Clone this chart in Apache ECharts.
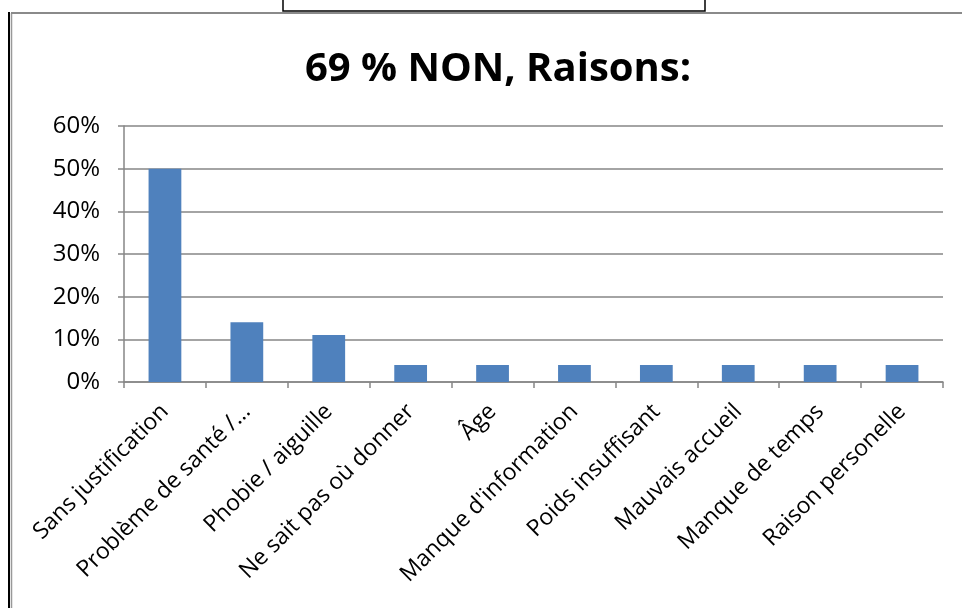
<!DOCTYPE html>
<html>
<head>
<meta charset="utf-8">
<script src="https://cdn.jsdelivr.net/npm/echarts@6/dist/echarts.min.js"></script>
<style>
html,body{margin:0;padding:0;background:#fff;}
#chart{width:962px;height:608px;}
</style>
</head>
<body>
<div id="chart"></div>
<script>
const titleText = '69 % NON, Raisons:';
const categories = ['Sans justification','Problème de santé /…','Phobie / aiguille','Ne sait pas où donner','Âge',"Manque d'information",'Poids insuffisant','Mauvais accueil','Manque de temps','Raison personelle'];
const values = [0.50, 0.14, 0.11, 0.04, 0.04, 0.04, 0.04, 0.04, 0.04, 0.04];
const yTicks = [0, 0.1, 0.2, 0.3, 0.4, 0.5, 0.6];

const chart = echarts.init(document.getElementById('chart'));
chart.setOption({
  animation: false,
  backgroundColor: '#ffffff',
  title: {
    text: titleText,
    left: 493, top: 45, textAlign: 'center',
    textStyle: {fontFamily: 'Open Sans', fontWeight: 'bold', fontSize: 40, color: '#000'}
  },
  graphic: [
    {type:'line', shape:{x1:9,y1:12,x2:9,y2:608}, style:{stroke:'#000',lineWidth:2}},
    {type:'line', shape:{x1:11.5,y1:13,x2:11.5,y2:608}, style:{stroke:'#999',lineWidth:1.5}},
    {type:'line', shape:{x1:11,y1:13,x2:962,y2:13}, style:{stroke:'#8a8a8a',lineWidth:2}},
    {type:'rect', shape:{x:283,y:-2,width:422,height:13}, style:{fill:'#fff',stroke:'#000',lineWidth:1.5}}
  ],
  grid: {left:124, right:19, top:126, bottom:226, containLabel:false},
  xAxis: {
    type:'category', data: categories,
    axisLine:{show:true, lineStyle:{color:'#868686', width:1.5}},
    axisTick:{show:true, alignWithLabel:false, length:6, lineStyle:{color:'#868686', width:1.5}},
    axisLabel:{rotate:45, interval:0, margin:26, color:'#000', fontFamily:'Open Sans', fontSize:23}
  },
  yAxis: {
    type:'value', min:0, max:0.6, interval:0.1,
    axisLine:{show:true, lineStyle:{color:'#868686', width:1.5}},
    axisTick:{show:true, length:6, lineStyle:{color:'#868686', width:1.5}},
    splitLine:{show:true, lineStyle:{color:'#868686', width:1.5}},
    axisLabel:{margin:24, color:'#000', fontFamily:'Open Sans', fontSize:24,
      formatter: v => Math.round(v*100) + '%'}
  },
  series: [{
    type:'bar', data: values, barWidth:'40%',
    itemStyle:{color:'#4F81BD'}
  }]
});
</script>
</body>
</html>
